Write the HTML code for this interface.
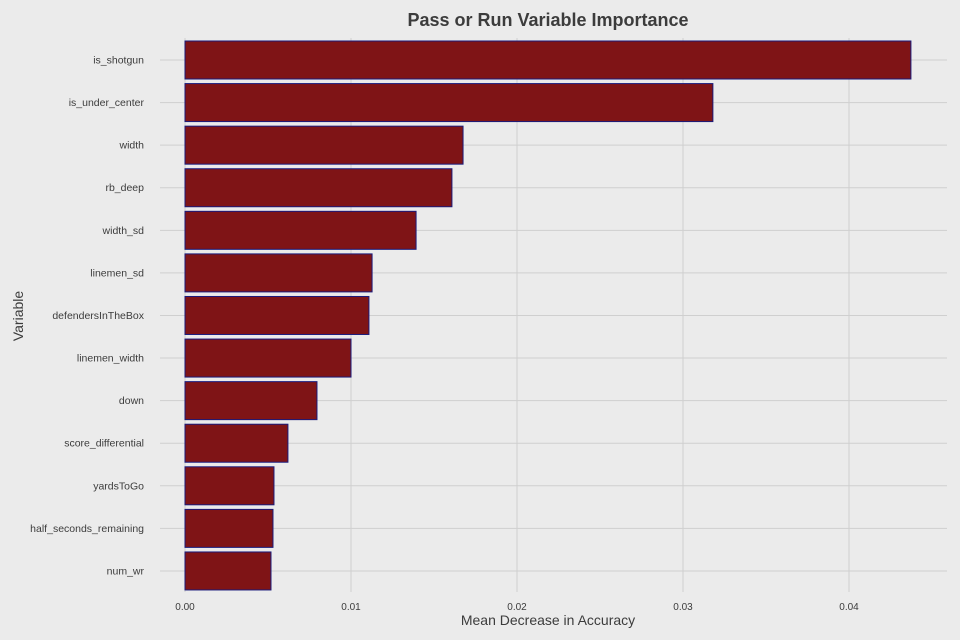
<!DOCTYPE html>
<html><head><meta charset="utf-8"><style>
body{margin:0;background:#ebebeb;}
svg{display:block;font-family:"Liberation Sans",sans-serif;}
</style></head><body>
<svg id="chart" width="960" height="640">
<rect width="960" height="640" fill="#ebebeb"/>
<text x="548" y="26" text-anchor="middle" font-size="18" font-weight="bold" fill="#3c3c3c">Pass or Run Variable Importance</text>
<g id="grid"></g><g id="bars"></g><g id="labels"></g>
<text x="548" y="625" text-anchor="middle" font-size="14" fill="#3c3c3c">Mean Decrease in Accuracy</text>
<text x="23" y="316" text-anchor="middle" font-size="14" fill="#3c3c3c" transform="rotate(-90 23 316)">Variable</text>
</svg>
<script>
const categories=["is_shotgun","is_under_center","width","rb_deep","width_sd","linemen_sd","defendersInTheBox","linemen_width","down","score_differential","yardsToGo","half_seconds_remaining","num_wr"];
const values=[0.04373,0.0318,0.01675,0.01608,0.01392,0.01127,0.01108,0.0100,0.00795,0.0062,0.00536,0.0053,0.00518];
const xTicks=[0,0.01,0.02,0.03,0.04];
const xTickLabels=["0.00","0.01","0.02","0.03","0.04"];
const NS="http://www.w3.org/2000/svg";
const x=v=>185+v*16600;
const y=i=>60+i*42.58;
const bh=38;
function mk(t,a,p){const e=document.createElementNS(NS,t);for(const k in a)e.setAttribute(k,a[k]);p.appendChild(e);return e;}
const g=document.getElementById('grid'),b=document.getElementById('bars'),l=document.getElementById('labels');
xTicks.forEach((t,i)=>{
 const ln=mk('line',{x1:x(t),x2:x(t),y1:38,y2:592,stroke:'#cfcfcf','stroke-width':1},g);
 
 
 const tx=mk('text',{x:x(t),y:610,'text-anchor':'middle','font-size':10,fill:'#3c3c3c'},l);
 tx.textContent=xTickLabels[i];
 
 
});
categories.forEach((c,i)=>{
 const ln=mk('line',{x1:160,x2:947,y1:y(i),y2:y(i),stroke:'#cfcfcf','stroke-width':1},g);
 
 
 const r=mk('rect',{x:x(0),y:y(i)-bh/2,width:x(values[i])-x(0),height:bh,fill:'#7f1416',stroke:'#1a1a7a','stroke-width':1},b);
 
 
 const tx=mk('text',{x:144,y:y(i)+3.5,'text-anchor':'end','font-size':10.5,fill:'#3c3c3c'},l);
 tx.textContent=c;
 
 
});
</script>
</body></html>
